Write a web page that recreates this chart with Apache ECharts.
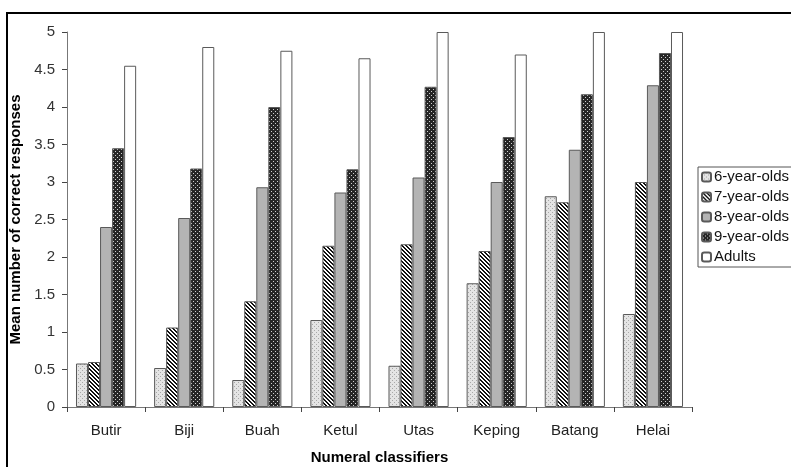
<!DOCTYPE html>
<html><head><meta charset="utf-8">
<script src="https://cdn.jsdelivr.net/npm/echarts@6/dist/echarts.min.js"></script>
<style>html,body{margin:0;padding:0;background:#fff}#c{width:791px;height:467px}</style>
</head><body><div id="c"></div>
<script>
const categories = ['Butir','Biji','Buah','Ketul','Utas','Keping','Batang','Helai'];
const seriesNames = ['6-year-olds','7-year-olds','8-year-olds','9-year-olds','Adults'];
const age6 = [0.58,0.52,0.36,1.16,0.55,1.65,2.81,1.24];
const age7 = [0.60,1.06,1.41,2.15,2.17,2.08,2.73,3.00];
const age8 = [2.40,2.52,2.93,2.86,3.06,3.00,3.43,4.29];
const age9 = [3.45,3.18,4.00,3.17,4.27,3.60,4.17,4.72];
const adults = [4.55,4.80,4.75,4.65,5.00,4.70,5.00,5.00];
const yTicks = [0,0.5,1,1.5,2,2.5,3,3.5,4,4.5,5];

function pat(size, draw){
  const c=document.createElement('canvas'); c.width=size; c.height=size;
  draw(c.getContext('2d'), size); return {image:c, repeat:'repeat'};
}
const p6 = pat(4,(g)=>{g.fillStyle='#e4e4e4';g.fillRect(0,0,4,4);g.fillStyle='#a8a8a8';g.fillRect(0,0,1,1);g.fillRect(2,2,1,1);});
const p7 = pat(4,(g)=>{g.fillStyle='#fff';g.fillRect(0,0,4,4);g.fillStyle='#111';
  for(let i=0;i<4;i++){g.fillRect(i,i,1,1);g.fillRect((i+1)%4,i,1,1);}});
const p9 = pat(4,(g)=>{g.fillStyle='#262626';g.fillRect(0,0,4,4);g.fillStyle='#d0d0d0';g.fillRect(1,1,1,1);g.fillRect(3,3,1,1);});
const fills = [p6,p7,'#b4b4b4',p9,'#ffffff'];
const data = [age6,age7,age8,age9,adults];

const chart = echarts.init(document.getElementById('c'),null,{renderer:'canvas'});
const font = 'Liberation Sans, Arial, sans-serif';
chart.setOption({
  animation:false,
  textStyle:{fontFamily:font},
  grid:{left:67,right:99,top:32,bottom:60,containLabel:false,outerBoundsMode:'none'},
  legend:{orient:'vertical',left:698,top:167,itemWidth:9,itemHeight:9,itemGap:0,
    textStyle:{fontSize:15,lineHeight:20,color:'#111',fontFamily:font,padding:[0,0,0,-2]},
    padding:[0,10,0,3],borderColor:'#555',borderWidth:1,backgroundColor:'#fff',data:seriesNames},
  graphic:[{type:'rect',shape:{x:7,y:13,width:800,height:470},style:{fill:'none',stroke:'#000',lineWidth:2},z:-1}],
  xAxis:{type:'category',data:categories,
    axisLine:{lineStyle:{color:'#777',width:1}},
    axisTick:{show:true,alignWithLabel:false,length:5,lineStyle:{color:'#444'}},
    axisLabel:{fontSize:15,color:'#222',margin:16,fontFamily:font},
    name:'Numeral classifiers',nameLocation:'middle',nameGap:43,
    nameTextStyle:{fontSize:15,fontWeight:'bold',color:'#000',fontFamily:font}},
  yAxis:{type:'value',min:0,max:5,interval:0.5,
    axisLine:{show:true,lineStyle:{color:'#777'}},
    axisTick:{show:true,length:5,lineStyle:{color:'#444'}},
    splitLine:{show:false},
    axisLabel:{fontSize:15,color:'#333',margin:12,fontFamily:font,formatter:v=>String(v)},
    name:'Mean number of correct responses',nameLocation:'middle',nameGap:42,
    nameTextStyle:{fontSize:15,fontWeight:'bold',color:'#000',fontFamily:font}},
  series: seriesNames.map((n,i)=>({
    name:n,type:'bar',data:data[i],barGap:'0%',barCategoryGap:'23%',
    itemStyle:{color:fills[i],borderColor:'#5a5a5a',borderWidth:1}
  }))
});
</script></body></html>
